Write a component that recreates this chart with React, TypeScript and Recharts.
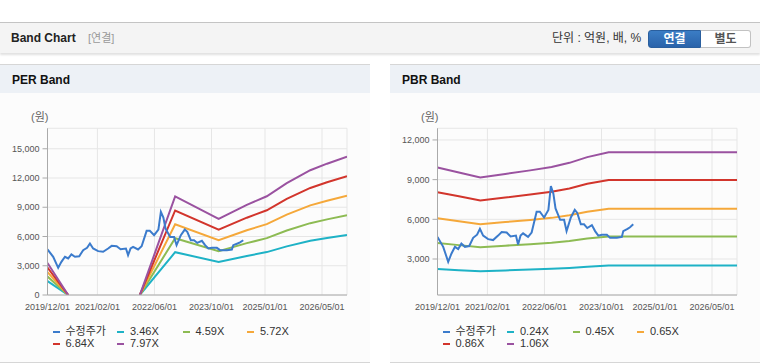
import React from 'react';
import { LineChart, Line, XAxis, YAxis, CartesianGrid } from 'recharts';

// x positions are months since 2019/12/01
const X_TICKS = [0, 14, 30, 46, 61, 77];
const X_TICK_LABELS = ['2019/12/01', '2021/02/01', '2022/06/01', '2023/10/01', '2025/01/01', '2026/05/01'];
const X_DOMAIN: [number, number] = [0, 84];

// 수정주가 (adjusted price): [month, value]
const PRICE: [number, number][] = [
  [0, 4670], [1.6, 3920], [3, 2790], [3.9, 3400], [4.9, 3920], [5.8, 3750], [6.7, 4160], [7.7, 3920],
  [8.9, 3980], [10, 4600], [11.1, 4840], [11.9, 5280], [12.8, 4770], [14.2, 4500], [15.6, 4430], [17, 4770],
  [18, 5040], [19.4, 5000], [20.5, 4700], [22, 4770], [22.6, 4090], [23.3, 4770], [24, 4940], [25.4, 4670],
  [26.4, 5000], [27.8, 6580], [28.7, 6580], [29.9, 6140], [31.1, 6710], [31.8, 8520], [32.5, 7940], [33.1, 6820],
  [34.4, 5960], [35.5, 5960], [36.2, 5110], [37.4, 6140], [38.5, 6710], [39.2, 6480], [40.2, 5620], [41.1, 5620],
  [42, 5340], [43.3, 5560], [44.2, 5110], [45.1, 4770], [46.1, 4840], [47.5, 4840], [48.4, 4600], [50.3, 4600],
  [51.7, 4670], [52.1, 5110], [53.3, 5280], [54, 5400], [54.9, 5620],
];

// PER band
const PER_MONTHS = [0, 5.8, 15, 25.9, 35.8, 48, 55.9, 61.5, 67.1, 73.7, 78.4, 84];
const PER_346 = [1420, 0, null, 0, 4390, 3390, 4010, 4400, 4990, 5560, 5850, 6160];
const PER_459 = [1890, 0, null, 0, 5820, 4500, 5320, 5830, 6610, 7370, 7760, 8180];
const PER_572 = [2350, 0, null, 0, 7250, 5610, 6640, 7270, 8240, 9190, 9670, 10190];
const PER_684 = [2810, 0, null, 0, 8670, 6700, 7930, 8690, 9860, 10980, 11560, 12180];
const PER_797 = [3280, 0, null, 0, 10110, 7810, 9250, 10130, 11480, 12800, 13470, 14200];
const PER_Y_TICKS = [0, 3000, 6000, 9000, 12000, 15000];
const PER_Y_DOMAIN: [number, number] = [0, 17100];
const PER_LABELS = ['3.46X', '4.59X', '5.72X', '6.84X', '7.97X'];

// PBR band
const PBR_MONTHS = [0, 6, 12, 19, 26, 32, 37, 42, 48, 84];
const PBR_024 = [2240, 2160, 2070, 2140, 2200, 2260, 2330, 2420, 2510, 2510];
const PBR_045 = [4210, 4050, 3890, 4010, 4120, 4230, 4360, 4550, 4700, 4700];
const PBR_065 = [6080, 5850, 5620, 5790, 5950, 6110, 6300, 6570, 6790, 6790];
const PBR_086 = [8040, 7740, 7430, 7650, 7870, 8080, 8330, 8690, 8980, 8980];
const PBR_106 = [9910, 9540, 9160, 9430, 9700, 9960, 10270, 10700, 11070, 11070];
const PBR_Y_TICKS = [3000, 6000, 9000, 12000];
const PBR_Y_DOMAIN: [number, number] = [280, 12880];
const PBR_LABELS = ['0.24X', '0.45X', '0.65X', '0.86X', '1.06X'];

const PRICE_COLOR = '#3b7bcc';
const BAND_COLORS = ['#1eb2c6', '#8dbb53', '#f5a83a', '#d2352c', '#9a52a0'];

const FONT = '"Liberation Sans", Arial, "Noto Sans CJK KR", sans-serif';

const priceData = PRICE.map(([m, v]) => ({ m, v }));

function buildBands(months: number[], series: (number | null)[][]) {
  return months.map((m, i) => {
    const row: Record<string, number | null> = { m };
    series.forEach((s, k) => {
      row['b' + k] = s[i];
    });
    return row;
  });
}

const perBandData = buildBands(PER_MONTHS, [PER_346, PER_459, PER_572, PER_684, PER_797]);
const pbrBandData = buildBands(PBR_MONTHS, [PBR_024, PBR_045, PBR_065, PBR_086, PBR_106]);

const fmt = (v: number) => v.toLocaleString('en-US');
const xFmt = (v: number) => {
  const i = X_TICKS.indexOf(v);
  return i >= 0 ? X_TICK_LABELS[i] : '';
};

const tickStyle = { fontSize: 9, fill: '#555', fontFamily: FONT };

function LegendItem({ color, label, x, y }: { color: string; label: string; x: number; y: number }) {
  return (
    <div style={{ position: 'absolute', left: x, top: y, height: 13, lineHeight: '13px', fontSize: 11, color: '#333', whiteSpace: 'nowrap' }}>
      <span style={{ position: 'absolute', left: 0, top: 6, width: 7, height: 2, background: color }} />
      <span style={{ position: 'absolute', left: 13 }}>{label}</span>
    </div>
  );
}

function Panel(props: {
  left: number;
  title: string;
  bandData: any[];
  labels: string[];
  yDomain: [number, number];
  yTicks: number[];
}) {
  const { left, title, bandData, labels, yDomain, yTicks } = props;
  const legendItems = [{ color: PRICE_COLOR, label: '수정주가' }].concat(
    labels.map((l, i) => ({ color: BAND_COLORS[i], label: l }))
  );
  const colX = [52.5, 117, 182.5, 247];
  return (
    <div
      style={{
        position: 'absolute', left, top: 64, width: 370, height: 299, background: '#fcfcfc',
        borderTop: '1px solid #d6d6d6', borderBottom: '1px solid #d6d6d6', boxSizing: 'border-box',
      }}
    >
      <div style={{ position: 'absolute', left: 0, top: 0, width: 370, height: 28, background: '#edf1f6' }} />
      <div style={{ position: 'absolute', left: 12, top: 8, fontSize: 12, fontWeight: 'bold', lineHeight: '14px', color: '#111' }}>{title}</div>
      <div style={{ position: 'absolute', left: 31, top: 46, fontSize: 11, lineHeight: '13px', color: '#666' }}>(원)</div>
      <div style={{ position: 'absolute', left: 0, top: 35 }}>
        <LineChart width={370} height={220} margin={{ top: 28.3, right: 23, bottom: 0, left: 0 }}>
          <CartesianGrid stroke="#e6e6e6" strokeWidth={1} />
          <XAxis
            type="number"
            dataKey="m"
            domain={X_DOMAIN}
            ticks={X_TICKS}
            tickFormatter={xFmt}
            allowDataOverflow
            height={25}
            tickSize={0}
            tickLine={false}
            tickMargin={9}
            interval={0}
            tick={tickStyle}
            axisLine={{ stroke: '#aaa' }}
          />
          <XAxis xAxisId="top" orientation="top" type="number" domain={X_DOMAIN} height={0} tick={false} tickLine={false} axisLine={{ stroke: '#aaa' }} />
          <YAxis
            type="number"
            domain={yDomain}
            ticks={yTicks}
            allowDataOverflow
            tickFormatter={fmt}
            width={47.5}
            tickSize={5}
            tickMargin={3}
            interval={0}
            tick={tickStyle}
            tickLine={{ stroke: '#aaa' }}
            axisLine={{ stroke: '#aaa' }}
          />
          <YAxis yAxisId="right" orientation="right" type="number" domain={yDomain} width={0} tick={false} tickLine={false} axisLine={{ stroke: '#aaa' }} />
          {BAND_COLORS.map((c, i) => (
            <Line
              key={i}
              data={bandData}
              dataKey={'b' + i}
              type="linear"
              stroke={c}
              strokeWidth={2}
              dot={false}
              activeDot={false}
              isAnimationActive={false}
            />
          ))}
          <Line
            data={priceData}
            dataKey="v"
            type="linear"
            stroke={PRICE_COLOR}
            strokeWidth={2}
            dot={false}
            activeDot={false}
            isAnimationActive={false}
          />
        </LineChart>
      </div>
      {legendItems.map((it, i) => (
        <LegendItem key={i} color={it.color} label={it.label} x={colX[i % 4]} y={i < 4 ? 259.5 : 272} />
      ))}
    </div>
  );
}

export default function App() {
  return (
    <div style={{ position: 'absolute', left: 0, top: 0, width: 760, height: 364, background: '#fff', overflow: 'hidden', fontFamily: FONT }}>
      <div
        style={{
          position: 'absolute', left: 0, top: 22, width: 760, height: 31, background: '#f4f4f4',
          borderTop: '1px solid #c4c4c4', boxSizing: 'border-box', boxShadow: '0 2px 2px rgba(0,0,0,0.12)',
        }}
      >
        <div style={{ position: 'absolute', left: 11, top: 8, fontSize: 12, fontWeight: 'bold', lineHeight: '14px', color: '#222' }}>Band Chart</div>
        <div style={{ position: 'absolute', left: 88, top: 8, fontSize: 11, lineHeight: '14px', color: '#999' }}>[연결]</div>
        <div style={{ position: 'absolute', left: 552, top: 8, fontSize: 12, lineHeight: '15px', color: '#333', whiteSpace: 'nowrap' }}>단위 : 억원, 배, %</div>
        <div
          style={{
            position: 'absolute', left: 648, top: 7, width: 53, height: 18, boxSizing: 'border-box',
            background: 'linear-gradient(#3b7dc5, #2a63aa)', border: '1px solid #2a5f9e', borderRadius: '3px 0 0 3px',
            color: '#fff', fontSize: 12, fontWeight: 'bold', lineHeight: '16px', textAlign: 'center',
          }}
        >
          연결
        </div>
        <div
          style={{
            position: 'absolute', left: 701, top: 7, width: 50, height: 18, boxSizing: 'border-box',
            background: '#fff', border: '1px solid #c2c2c2', borderLeft: 'none', borderRadius: '0 3px 3px 0',
            color: '#555', fontSize: 12, fontWeight: 'bold', lineHeight: '16px', textAlign: 'center',
          }}
        >
          별도
        </div>
      </div>
      <Panel left={0} title="PER Band" bandData={perBandData} labels={PER_LABELS} yDomain={PER_Y_DOMAIN} yTicks={PER_Y_TICKS} />
      <Panel left={390} title="PBR Band" bandData={pbrBandData} labels={PBR_LABELS} yDomain={PBR_Y_DOMAIN} yTicks={PBR_Y_TICKS} />
    </div>
  );
}
